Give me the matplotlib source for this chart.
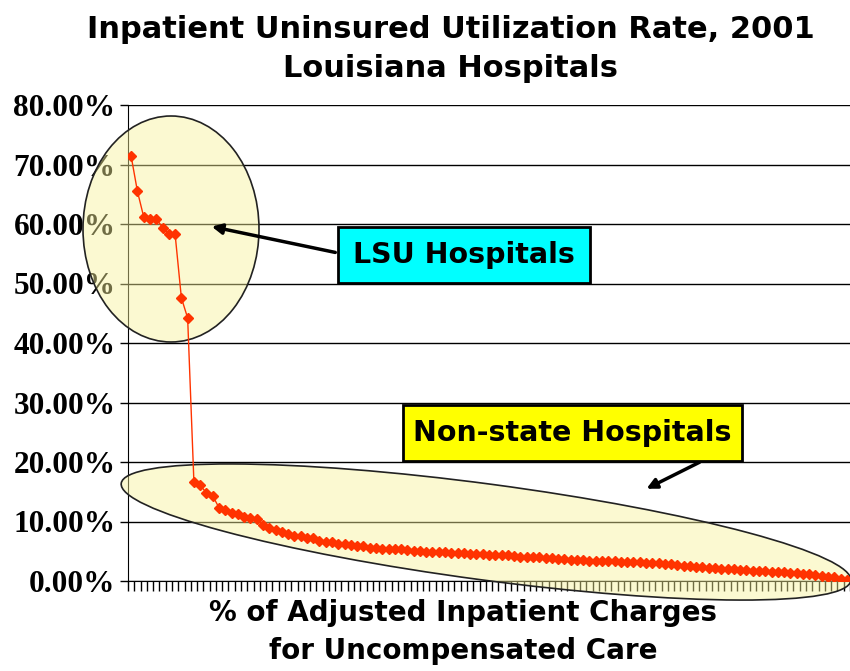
import matplotlib
matplotlib.use('Agg')
import matplotlib.pyplot as plt
from matplotlib.patches import Ellipse, Rectangle
from matplotlib.transforms import Affine2D
import numpy as np

# uninsured utilization rate (%), hospitals sorted high to low
lsu = [71.4, 65.5, 61.2, 60.9, 60.9, 59.4, 58.4, 58.3, 47.6, 44.2]
nonstate = [16.6, 16.1, 14.8, 14.3, 12.3, 12.0, 11.5, 11.2, 10.8, 10.6,
            10.4, 9.4, 8.9, 8.6, 8.2, 7.9, 7.6, 7.5, 7.3, 7.2,
            6.8, 6.6, 6.5, 6.3, 6.2, 6.0, 5.95, 5.8, 5.6, 5.5,
            5.45, 5.4, 5.35, 5.3, 5.2, 5.1, 5.0, 4.95, 4.9, 4.85,
            4.8, 4.75, 4.7, 4.65, 4.6, 4.55, 4.5, 4.45, 4.4, 4.35,
            4.3, 4.2, 4.1, 4.05, 4.0, 3.95, 3.9, 3.85, 3.75, 3.65,
            3.55, 3.5, 3.45, 3.4, 3.35, 3.35, 3.3, 3.3, 3.25, 3.2,
            3.2, 3.15, 3.1, 3.05, 3.0, 2.9, 2.8, 2.7, 2.6, 2.5,
            2.4, 2.3, 2.25, 2.15, 2.1, 2.0, 1.95, 1.9, 1.8, 1.7,
            1.65, 1.6, 1.55, 1.5, 1.45, 1.4, 1.3, 1.2, 1.1, 1.0,
            0.9, 0.75, 0.6, 0.4, 0.1]
rates = lsu + nonstate
yticks = [0, 10, 20, 30, 40, 50, 60, 70, 80]

W, H = 850, 671
fig = plt.figure(figsize=(W / 100, H / 100), dpi=100)
# pixel coords measured from top-left of the picture
px = Affine2D().scale(1, -1).translate(0, H).scale(1 / W, 1 / H) + fig.transFigure

ax = fig.add_axes([128 / W, 1 - 581 / H, (W - 128) / W, (581 - 105) / H])
x = np.arange(len(rates))
ax.plot(x, rates, color='#FF3300', lw=1.0, marker='D', ms=4.8, mec='#FF3300', zorder=5)

ax.set_xlim(-0.5, len(rates) - 0.5)
ax.set_ylim(0, 80)
ax.set_yticks(yticks)
ax.set_yticklabels(['%.2f%%' % v for v in yticks], fontfamily='Liberation Serif',
                   fontweight='bold', fontsize=22.5)
ax.set_xticks(np.arange(len(rates) + 1) - 0.5)
ax.set_xticklabels([])
ax.tick_params(axis='x', direction='out', length=7, width=1, color='black')
ax.tick_params(axis='y', direction='out', length=6, width=1, pad=3)
ax.grid(axis='y', color='black', lw=1)
ax.set_axisbelow(True)
for s in ['top', 'right']:
    ax.spines[s].set_visible(False)
ax.spines['left'].set_color('black')
ax.spines['bottom'].set_color('black')

# highlight ellipses
fill = (0.97, 0.95, 0.6)
e1 = Ellipse((171, 229), 176, 226, transform=px, facecolor=fill, alpha=0.45,
             edgecolor='none', zorder=3)
e1b = Ellipse((171, 229), 176, 226, transform=px, facecolor='none',
              edgecolor='#222222', lw=1.2, zorder=3)
e2 = Ellipse((486, 532), 736, 96, angle=7.6, transform=px, facecolor=fill,
             alpha=0.45, edgecolor='none', zorder=3)
e2b = Ellipse((486, 532), 736, 96, angle=7.6, transform=px, facecolor='none',
              edgecolor='#222222', lw=1.2, zorder=3)
for p in [e1, e1b, e2, e2b]:
    p.set_clip_on(False)
    ax.add_artist(p)

# callout boxes
fig.add_artist(Rectangle((338, 283), 252, -56, transform=px, facecolor='#00FFFF',
                         edgecolor='black', lw=2, zorder=6))
fig.text(464, 255, 'LSU Hospitals', transform=px, ha='center', va='center',
         fontsize=20.5, fontweight='bold', zorder=7)
fig.add_artist(Rectangle((403, 461), 339, -56, transform=px, facecolor='#FFFF00',
                         edgecolor='black', lw=2, zorder=6))
fig.text(572, 433, 'Non-state Hospitals', transform=px, ha='center', va='center',
         fontsize=20.5, fontweight='bold', zorder=7)

ax.annotate('', xy=(209, 226), xycoords=px, xytext=(338, 253), textcoords=px,
            arrowprops=dict(arrowstyle='-|>', color='black', lw=2.5,
                            mutation_scale=15), zorder=8)
ax.annotate('', xy=(644, 490), xycoords=px, xytext=(702, 461), textcoords=px,
            arrowprops=dict(arrowstyle='-|>', color='black', lw=2.5,
                            mutation_scale=15), zorder=8)

fig.text(451, 49, 'Inpatient Uninsured Utilization Rate, 2001\nLouisiana Hospitals',
         transform=px, ha='center', va='center', fontsize=22, fontweight='bold',
         linespacing=1.4)
fig.text(463, 632, '% of Adjusted Inpatient Charges\nfor Uncompensated Care',
         transform=px, ha='center', va='center', fontsize=20, fontweight='bold',
         linespacing=1.45)

fig.savefig('out.png', dpi=100)
